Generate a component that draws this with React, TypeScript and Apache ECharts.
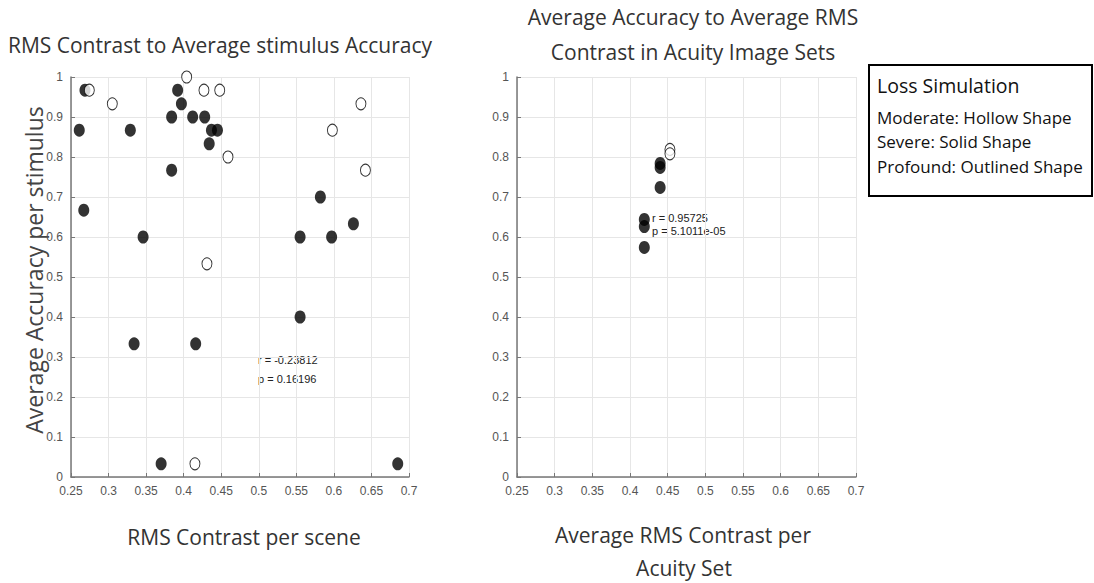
import React, { useEffect, useRef } from "react";
import * as echarts from "echarts";

// Left chart: RMS contrast per scene vs accuracy
const leftSolidX = [0.2686, 0.261, 0.329, 0.384, 0.392, 0.397, 0.412, 0.428, 0.437, 0.445, 0.434, 0.384, 0.267, 0.346, 0.555, 0.582, 0.597, 0.626, 0.334, 0.416, 0.555, 0.37, 0.685];
const leftSolidY = [0.967, 0.867, 0.867, 0.9, 0.967, 0.933, 0.9, 0.9, 0.867, 0.867, 0.833, 0.767, 0.667, 0.6, 0.6, 0.7, 0.6, 0.633, 0.333, 0.333, 0.4, 0.033, 0.033];
const leftHollowX = [0.2744, 0.305, 0.404, 0.427, 0.448, 0.459, 0.431, 0.598, 0.636, 0.642, 0.415];
const leftHollowY = [0.967, 0.933, 1.0, 0.967, 0.967, 0.8, 0.533, 0.867, 0.933, 0.767, 0.033];

// Right chart: average per acuity set
const rightSolidX = [0.419, 0.419, 0.419, 0.44, 0.44, 0.44];
const rightSolidY = [0.644, 0.626, 0.574, 0.784, 0.774, 0.724];
const rightHollowX = [0.453, 0.453];
const rightHollowY = [0.819, 0.808];

const leftStats = ["r = -0.23812", "p = 0.16196"];
const rightStats = ["r = 0.95725", "p = 5.1011e-05"];
const legendLines = ["Moderate: Hollow Shape", "Severe: Solid Shape", "Profound: Outlined Shape"];

const zip = (xs: number[], ys: number[]) => xs.map((x, i) => [x, ys[i]]);

const TICK_FONT = '"Liberation Sans Narrow", "Liberation Sans", Arial, sans-serif';
const UI_FONT = '"Open Sans", "Noto Sans", sans-serif';

function makeX(gridIndex: number) {
  return {
    type: "value",
    gridIndex,
    min: 0.25,
    max: 0.7,
    interval: 0.05,
    axisLine: { show: true, onZero: false, lineStyle: { color: "#777", width: 1.5 } },
    axisTick: { show: true, inside: true, length: 4, lineStyle: { color: "#777" } },
    axisLabel: { fontSize: 12, color: "#555", fontFamily: TICK_FONT, margin: 8, formatter: (v: number) => String(+v.toFixed(2)) },
    splitLine: { show: true, lineStyle: { color: "#e6e6e6", width: 1 } },
  };
}
function makeY(gridIndex: number) {
  return {
    type: "value",
    gridIndex,
    min: 0,
    max: 1,
    interval: 0.1,
    axisLine: { show: true, onZero: false, lineStyle: { color: "#777", width: 1.5 } },
    axisTick: { show: true, inside: true, length: 4, lineStyle: { color: "#777" } },
    axisLabel: { fontSize: 12, color: "#555", fontFamily: TICK_FONT, margin: 8, formatter: (v: number) => String(+v.toFixed(1)) },
    splitLine: { show: true, lineStyle: { color: "#e6e6e6", width: 1 } },
  };
}

function txt(text: string, x: number, y: number, size: number, opts: any = {}) {
  return {
    type: "text",
    x,
    y,
    rotation: opts.rotation || 0,
    style: {
      text,
      fontSize: size,
      fontFamily: opts.font || UI_FONT,
      fill: opts.fill || "#333",
      textAlign: opts.align || "center",
      textVerticalAlign: "middle",
    },
  };
}

export default function App() {
  const ref = useRef<HTMLDivElement>(null);
  useEffect(() => {
    if (!ref.current) return;
    const chart = echarts.init(ref.current, undefined, { renderer: "svg" });
    const solid = { color: "#000" };
    const hollow = { color: "#fff", borderColor: "#000", borderWidth: 1 };
    chart.setOption({
      animation: false,
      backgroundColor: "#fff",
      grid: [
        { left: 71, top: 77, width: 338, height: 400 },
        { left: 517, top: 77, width: 339, height: 400 },
      ],
      xAxis: [makeX(0), makeX(1)],
      yAxis: [makeY(0), makeY(1)],
      series: [
        { type: "scatter", xAxisIndex: 0, yAxisIndex: 0, symbol: "circle", symbolSize: [11, 13], itemStyle: solid, data: zip(leftSolidX, leftSolidY) },
        { type: "scatter", xAxisIndex: 0, yAxisIndex: 0, symbol: "circle", symbolSize: [10, 12], itemStyle: hollow, data: zip(leftHollowX, leftHollowY) },
        { type: "scatter", xAxisIndex: 1, yAxisIndex: 1, symbol: "circle", symbolSize: [11, 13], itemStyle: solid, data: zip(rightSolidX, rightSolidY) },
        { type: "scatter", xAxisIndex: 1, yAxisIndex: 1, symbol: "circle", symbolSize: [10, 12], itemStyle: hollow, data: zip(rightHollowX, rightHollowY) },
      ],
      graphic: [
        txt("RMS Contrast to Average stimulus Accuracy", 220, 45, 21),
        txt("Average Accuracy to Average RMS", 693, 17, 21),
        txt("Contrast in Acuity Image Sets", 693, 52, 21),
        txt("Average Accuracy per stimulus", 34, 270, 23, { rotation: Math.PI / 2, fill: "#444" }),
        txt("RMS Contrast per scene", 244, 537, 21),
        txt("Average RMS Contrast per", 683, 535, 21),
        txt("Acuity Set", 684, 568, 21),
        txt(leftStats[0], 258, 360, 11, { align: "left", font: TICK_FONT, fill: "#222" }),
        txt(leftStats[1], 258, 379, 11, { align: "left", font: TICK_FONT, fill: "#222" }),
        txt(rightStats[0], 652, 218, 11, { align: "left", font: TICK_FONT, fill: "#222" }),
        txt(rightStats[1], 652, 231, 11, { align: "left", font: TICK_FONT, fill: "#222" }),
        {
          type: "rect",
          shape: { x: 869, y: 65, width: 223, height: 131 },
          style: { fill: "#fff", stroke: "#000", lineWidth: 2 },
        },
        txt("Loss Simulation", 877, 85, 19.5, { align: "left", fill: "#111" }),
        txt(legendLines[0], 877, 117, 17, { align: "left", fill: "#111" }),
        txt(legendLines[1], 877, 141, 17, { align: "left", fill: "#111" }),
        txt(legendLines[2], 877, 166, 17, { align: "left", fill: "#111" }),
      ],
    });
    return () => chart.dispose();
  }, []);
  return <div ref={ref} style={{ position: "fixed", left: 0, top: 0, width: 1094, height: 583 }} />;
}
